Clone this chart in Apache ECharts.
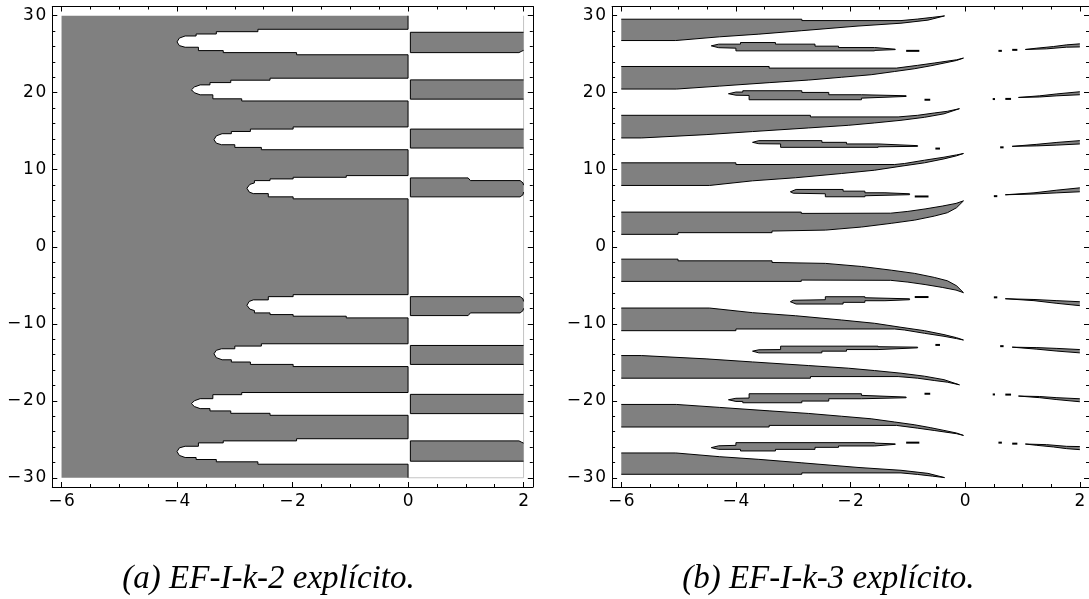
<!DOCTYPE html>
<html><head><meta charset="utf-8">
<script src="https://cdn.jsdelivr.net/npm/echarts@6/dist/echarts.min.js"></script>
<style>html,body{margin:0;padding:0;background:#fff}#c{width:1089px;height:599px}</style>
</head><body><div id="c"></div>
<script>
// ---------------- tick values ----------------
const xMajor = [-6, -4, -2, 0, 2];
const xMinor = [-6,-5.5,-5,-4.5,-4,-3.5,-3,-2.5,-2,-1.5,-1,-0.5,0,0.5,1,1.5,2];
const yMajor = [-30, -20, -10, 0, 10, 20, 30];
const yMinor = [-30,-28,-26,-24,-22,-20,-18,-16,-14,-12,-10,-8,-6,-4,-2,0,2,4,6,8,10,12,14,16,18,20,22,24,26,28,30];
const captions = ['(a) EF-I-k-2 explícito.', '(b) EF-I-k-3 explícito.'];

// ---------------- panel (a): white fingers cut into the gray block ----------------
const aFinger1 = [[0,28.24],[-2.60,28.24],[-2.60,27.93],[-3.32,27.93],[-3.32,27.63],[-3.67,27.63],[-3.67,27.37],[-3.86,27.37],[-3.96,27.1],[-4.0,26.6],[-3.96,26.12],[-3.86,25.91],[-3.63,25.91],[-3.63,25.47],[-3.20,25.47],[-3.20,25.21],[-1.93,25.21],[-1.93,24.93],[0,24.93]];
const aFinger2 = [[0,21.89],[-2.39,21.89],[-2.39,21.63],[-3.07,21.63],[-3.07,21.32],[-3.43,21.32],[-3.43,21.02],[-3.60,21.02],[-3.70,20.75],[-3.75,20.38],[-3.70,20.0],[-3.60,19.73],[-3.38,19.73],[-3.38,19.21],[-2.88,19.21],[-2.88,18.93],[0,18.93]];
const aFinger3 = [[0,15.56],[-1.99,15.56],[-1.99,15.28],[-2.73,15.28],[-2.73,14.97],[-3.06,14.97],[-3.06,14.68],[-3.22,14.68],[-3.32,14.4],[-3.36,13.9],[-3.32,13.45],[-3.23,13.25],[-3.00,13.25],[-3.00,12.90],[-2.54,12.90],[-2.54,12.60],[0,12.60]];
const aFinger4 = [[0,9.24],[-1.07,9.24],[-1.07,9.02],[-1.99,9.02],[-1.99,8.81],[-2.39,8.81],[-2.39,8.59],[-2.66,8.59],[-2.66,8.29],[-2.74,8.1],[-2.79,7.6],[-2.75,7.1],[-2.68,6.90],[-2.42,6.90],[-2.42,6.48],[-1.99,6.48],[-1.99,6.22],[0,6.22]];
const aFinger5 = [[0,-6.22],[-1.99,-6.22],[-1.99,-6.48],[-2.42,-6.48],[-2.42,-6.90],[-2.68,-6.90],[-2.75,-7.1],[-2.79,-7.6],[-2.74,-8.1],[-2.66,-8.29],[-2.66,-8.59],[-2.39,-8.59],[-2.39,-8.81],[-1.99,-8.81],[-1.99,-9.02],[-1.07,-9.02],[-1.07,-9.24],[0,-9.24]];
const aFinger6 = [[0,-12.60],[-2.54,-12.60],[-2.54,-12.90],[-3.00,-12.90],[-3.00,-13.25],[-3.23,-13.25],[-3.32,-13.45],[-3.36,-13.9],[-3.32,-14.4],[-3.22,-14.68],[-3.06,-14.68],[-3.06,-14.97],[-2.73,-14.97],[-2.73,-15.28],[-1.99,-15.28],[-1.99,-15.56],[0,-15.56]];
const aFinger7 = [[0,-18.93],[-2.88,-18.93],[-2.88,-19.21],[-3.38,-19.21],[-3.38,-19.73],[-3.60,-19.73],[-3.70,-20.0],[-3.75,-20.38],[-3.70,-20.75],[-3.60,-21.02],[-3.43,-21.02],[-3.43,-21.32],[-3.07,-21.32],[-3.07,-21.63],[-2.39,-21.63],[-2.39,-21.89],[0,-21.89]];
const aFinger8 = [[0,-24.93],[-1.93,-24.93],[-1.93,-25.21],[-3.20,-25.21],[-3.20,-25.47],[-3.63,-25.47],[-3.63,-25.91],[-3.86,-25.91],[-3.96,-26.12],[-4.0,-26.6],[-3.96,-27.1],[-3.86,-27.37],[-3.67,-27.37],[-3.67,-27.63],[-3.32,-27.63],[-3.32,-27.93],[-2.60,-27.93],[-2.60,-28.24],[0,-28.24]];
const aBlockCorners = [[0,30],[0,-30],[-6,-30],[-6,30]];

// panel (a): gray bars right of the imaginary axis
const aBar1 = [[2,27.85],[0.04,27.85],[0.04,25.21],[1.92,25.21],[1.97,25.4],[2,25.5]];
const aBar2 = [[2,21.67],[0.04,21.67],[0.04,19.17],[2,19.17]];
const aBar3 = [[2,15.28],[0.04,15.28],[0.04,12.82],[2,12.82]];
const aBar4 = [[2,8.0],[1.99,8.3],[1.94,8.59],[1.08,8.59],[1.04,8.94],[0.04,8.94],[0.04,6.48],[1.94,6.48],[1.99,6.75],[2,7.1]];
const aBar5 = [[2,-7.1],[1.99,-6.75],[1.94,-6.48],[0.04,-6.48],[0.04,-8.94],[1.04,-8.94],[1.08,-8.59],[1.94,-8.59],[1.99,-8.3],[2,-8.0]];
const aBar6 = [[2,-12.82],[0.04,-12.82],[0.04,-15.28],[2,-15.28]];
const aBar7 = [[2,-19.17],[0.04,-19.17],[0.04,-21.67],[2,-21.67]];
const aBar8 = [[2,-25.5],[1.97,-25.4],[1.92,-25.21],[0.04,-25.21],[0.04,-27.85],[2,-27.85]];
const aGhost1 = [[2,30],[2,-30]];
const aGhost2 = [[0,-30],[2,-30]];

// ---------------- panel (b): tapering bands (upper edge / lower edge, left to right, ending at tip) ----------------
const bA_up  = [[-6,29.55],[-2.85,29.55],[-2.85,29.37],[-1.12,29.37],[-0.83,29.57],[-0.57,29.79],[-0.36,29.98]];
const bA_lo  = [[-6,26.78],[-5.05,26.78],[-4.29,27.26],[-3.6,27.61],[-2.85,28.06],[-1.87,28.66],[-1.12,29.03],[-0.65,29.43],[-0.36,29.98]];
const bB_up  = [[-6,23.41],[-3.42,23.41],[-3.42,23.2],[-1.2,23.2],[-0.83,23.56],[-0.54,23.86],[-0.15,24.28],[-0.03,24.5]];
const bB_lo  = [[-6,20.48],[-5.04,20.48],[-4.29,20.86],[-3.42,21.31],[-2.73,21.65],[-2.16,22.01],[-1.64,22.34],[-1.23,22.76],[-0.89,23.11],[-0.60,23.5],[-0.37,23.85],[-0.15,24.19],[-0.03,24.5]];
const bC_up  = [[-6,17.07],[-2.70,17.07],[-2.70,16.86],[-1.17,16.86],[-0.83,17.07],[-0.54,17.37],[-0.31,17.59],[-0.1,17.93]];
const bC_lo  = [[-6,14.13],[-5.65,14.13],[-4.52,14.56],[-3.71,14.96],[-2.73,15.43],[-2.04,15.77],[-1.58,16.08],[-1.12,16.42],[-0.71,16.81],[-0.37,17.26],[-0.1,17.93]];
const bD_up  = [[-6,10.9],[-4.0,10.9],[-4.0,10.68],[-1.23,10.68],[-1.06,10.81],[-0.71,11.24],[-0.37,11.63],[-0.15,11.93],[-0.03,12.11]];
const bD_lo  = [[-6,7.96],[-4.46,7.96],[-3.71,8.56],[-2.96,8.96],[-2.16,9.51],[-1.58,9.94],[-1.12,10.46],[-0.71,10.9],[-0.37,11.41],[-0.15,11.81],[-0.03,12.11]];
const bE_up  = [[-6,4.5],[-2.86,4.5],[-2.86,4.33],[-1.3,4.36],[-1.0,4.59],[-0.7,4.91],[-0.4,5.28],[-0.16,5.63],[-0.03,5.96]];
const bE_lo  = [[-6,1.61],[-5.01,1.61],[-5.01,1.83],[-3.37,1.83],[-3.37,2.04],[-2.44,2.16],[-1.81,2.56],[-1.29,3.04],[-0.88,3.46],[-0.54,3.98],[-0.31,4.42],[-0.15,5.07],[-0.03,5.96]];
const bF_up  = [[-6,-1.61],[-5.01,-1.61],[-5.01,-1.83],[-3.37,-1.83],[-3.37,-2.04],[-2.44,-2.16],[-1.81,-2.56],[-1.29,-3.04],[-0.88,-3.46],[-0.54,-3.98],[-0.31,-4.42],[-0.15,-5.07],[-0.03,-5.96]];
const bF_lo  = [[-6,-4.5],[-2.86,-4.5],[-2.86,-4.33],[-1.3,-4.36],[-1.0,-4.59],[-0.7,-4.91],[-0.4,-5.28],[-0.16,-5.63],[-0.03,-5.96]];
const bG_up  = [[-6,-7.96],[-4.46,-7.96],[-3.71,-8.56],[-2.96,-8.96],[-2.16,-9.51],[-1.58,-9.94],[-1.12,-10.46],[-0.71,-10.9],[-0.37,-11.41],[-0.15,-11.81],[-0.03,-12.11]];
const bG_lo  = [[-6,-10.9],[-4.0,-10.9],[-4.0,-10.68],[-1.23,-10.68],[-1.06,-10.81],[-0.71,-11.24],[-0.37,-11.63],[-0.15,-11.93],[-0.03,-12.11]];
const bH_up  = [[-6,-14.13],[-5.65,-14.13],[-4.52,-14.56],[-3.71,-14.96],[-2.73,-15.43],[-2.04,-15.77],[-1.58,-16.08],[-1.12,-16.42],[-0.71,-16.81],[-0.37,-17.26],[-0.1,-17.93]];
const bH_lo  = [[-6,-17.07],[-2.70,-17.07],[-2.70,-16.86],[-1.17,-16.86],[-0.83,-17.07],[-0.54,-17.37],[-0.31,-17.59],[-0.1,-17.93]];
const bI_up  = [[-6,-20.48],[-5.04,-20.48],[-4.29,-20.86],[-3.42,-21.31],[-2.73,-21.65],[-2.16,-22.01],[-1.64,-22.34],[-1.23,-22.76],[-0.89,-23.11],[-0.60,-23.5],[-0.37,-23.85],[-0.15,-24.19],[-0.03,-24.5]];
const bI_lo  = [[-6,-23.41],[-3.42,-23.41],[-3.42,-23.2],[-1.2,-23.2],[-0.83,-23.56],[-0.54,-23.86],[-0.15,-24.28],[-0.03,-24.5]];
const bJ_up  = [[-6,-26.78],[-5.05,-26.78],[-4.29,-27.26],[-3.6,-27.61],[-2.85,-28.06],[-1.87,-28.66],[-1.12,-29.03],[-0.65,-29.43],[-0.36,-29.98]];
const bJ_lo  = [[-6,-29.55],[-2.85,-29.55],[-2.85,-29.37],[-1.12,-29.37],[-0.83,-29.57],[-0.57,-29.79],[-0.36,-29.98]];

// panel (b): isolated slivers (closed outlines)
const bS1 = [[-4.43,26.09],[-4.3,26.31],[-3.92,26.31],[-3.92,26.52],[-3.31,26.52],[-3.31,26.31],[-2.62,26.31],[-2.62,26.05],[-2.21,26.05],[-2.21,25.87],[-1.58,25.87],[-1.22,25.66],[-1.22,25.6],[-1.58,25.5],[-1.58,25.44],[-4.0,25.44],[-4.0,25.79],[-4.3,25.85]];
const bS2 = [[-4.13,19.87],[-4.0,20.09],[-3.88,20.09],[-3.88,20.26],[-2.85,20.26],[-2.85,20.04],[-2.38,20.04],[-2.38,19.74],[-1.81,19.74],[-1.03,19.61],[-1.03,19.52],[-1.81,19.30],[-1.81,19.09],[-3.77,19.09],[-3.77,19.65],[-4.0,19.68]];
const bS3 = [[-3.71,13.56],[-3.6,13.78],[-2.5,13.78],[-2.5,13.56],[-2.07,13.56],[-2.07,13.35],[-1.52,13.35],[-0.83,13.13],[-0.83,13.04],[-1.52,12.98],[-1.52,12.91],[-3.22,12.91],[-3.22,13.35],[-3.6,13.38]];
const bS4 = [[-3.05,7.14],[-2.95,7.44],[-2.13,7.44],[-2.13,7.22],[-1.75,7.22],[-1.75,7.01],[-1.4,7.01],[-0.97,6.88],[-0.97,6.76],[-1.75,6.62],[-1.75,6.49],[-2.44,6.49],[-2.44,6.88],[-3.0,6.95]];
const bS5 = [[-3.05,-7.14],[-2.95,-7.44],[-2.13,-7.44],[-2.13,-7.22],[-1.75,-7.22],[-1.75,-7.01],[-1.4,-7.01],[-0.97,-6.88],[-0.97,-6.76],[-1.75,-6.62],[-1.75,-6.49],[-2.44,-6.49],[-2.44,-6.88],[-3.0,-6.95]];
const bS6 = [[-3.71,-13.56],[-3.6,-13.78],[-2.5,-13.78],[-2.5,-13.56],[-2.07,-13.56],[-2.07,-13.35],[-1.52,-13.35],[-0.83,-13.13],[-0.83,-13.04],[-1.52,-12.98],[-1.52,-12.91],[-3.22,-12.91],[-3.22,-13.35],[-3.6,-13.38]];
const bS7 = [[-4.13,-19.87],[-4.0,-20.09],[-3.88,-20.09],[-3.88,-20.26],[-2.85,-20.26],[-2.85,-20.04],[-2.38,-20.04],[-2.38,-19.74],[-1.81,-19.74],[-1.03,-19.61],[-1.03,-19.52],[-1.81,-19.30],[-1.81,-19.09],[-3.77,-19.09],[-3.77,-19.65],[-4.0,-19.68]];
const bS8 = [[-4.43,-26.09],[-4.3,-26.31],[-3.92,-26.31],[-3.92,-26.52],[-3.31,-26.52],[-3.31,-26.31],[-2.62,-26.31],[-2.62,-26.05],[-2.21,-26.05],[-2.21,-25.87],[-1.58,-25.87],[-1.22,-25.66],[-1.22,-25.6],[-1.58,-25.5],[-1.58,-25.44],[-4.0,-25.44],[-4.0,-25.79],[-4.3,-25.85]];

// panel (b): thin wedges reaching x = 2 (open at the plot edge)
const bR1 = [[2,26.35],[1.77,26.22],[1.54,26.0],[1.25,25.79],[1.05,25.62],[1.42,25.70],[1.77,25.92],[2,25.95]];
const bR2 = [[2,20.13],[1.6,19.85],[1.3,19.6],[0.93,19.39],[1.3,19.45],[1.6,19.6],[2,19.74]];
const bR3 = [[2,13.78],[1.6,13.55],[1.25,13.3],[0.82,13.04],[1.25,13.1],[1.6,13.2],[2,13.35]];
const bR4 = [[2,7.65],[1.6,7.35],[1.2,7.0],[0.7,6.75],[1.2,6.85],[1.6,7.0],[2,7.14]];
const bR5 = [[2,-7.65],[1.6,-7.35],[1.2,-7.0],[0.7,-6.75],[1.2,-6.85],[1.6,-7.0],[2,-7.14]];
const bR6 = [[2,-13.78],[1.6,-13.55],[1.25,-13.3],[0.82,-13.04],[1.25,-13.1],[1.6,-13.2],[2,-13.35]];
const bR7 = [[2,-20.13],[1.6,-19.85],[1.3,-19.6],[0.93,-19.39],[1.3,-19.45],[1.6,-19.6],[2,-19.74]];
const bR8 = [[2,-26.35],[1.77,-26.22],[1.54,-26.0],[1.25,-25.79],[1.05,-25.62],[1.42,-25.70],[1.77,-25.92],[2,-25.95]];

// panel (b): short dashes / dots
const bDashes = [
  [[-1.03,25.44],[-0.80,25.44]], [[0.58,25.44],[0.64,25.44]], [[0.82,25.57],[0.91,25.57]],
  [[-0.71,19.09],[-0.61,19.09]], [[0.48,19.18],[0.52,19.18]], [[0.70,19.2],[0.80,19.2]],
  [[-0.52,12.75],[-0.44,12.75]], [[0.61,12.91],[0.67,12.91]],
  [[-0.88,6.53],[-0.64,6.53]], [[0.50,6.57],[0.56,6.57]],
  [[-0.88,-6.53],[-0.64,-6.53]], [[0.50,-6.57],[0.56,-6.57]],
  [[-0.52,-12.75],[-0.44,-12.75]], [[0.61,-12.91],[0.67,-12.91]],
  [[-0.71,-19.09],[-0.61,-19.09]], [[0.48,-19.18],[0.52,-19.18]], [[0.70,-19.2],[0.80,-19.2]],
  [[-1.03,-25.44],[-0.80,-25.44]], [[0.58,-25.44],[0.64,-25.44]], [[0.82,-25.57],[0.91,-25.57]]
];

// ---------------- assemble shapes ----------------
const band = (up, lo) => ({edge: up.concat(lo.slice(0, -1).reverse())});
const aBlock = {
  edge: [aBlockCorners[0]].concat(aFinger1, aFinger2, aFinger3, aFinger4, aFinger5, aFinger6, aFinger7, aFinger8, [aBlockCorners[1]]),
  cap: [aBlockCorners[2], aBlockCorners[3]]
};
const aBars = [aBar1, aBar2, aBar3, aBar4, aBar5, aBar6, aBar7, aBar8].map(e => ({edge: e}));
const aGhosts = [aGhost1, aGhost2].map(e => ({edge: e}));
const bBands = [band(bA_up,bA_lo), band(bB_up,bB_lo), band(bC_up,bC_lo), band(bD_up,bD_lo), band(bE_up,bE_lo),
                band(bF_up,bF_lo), band(bG_up,bG_lo), band(bH_up,bH_lo), band(bI_up,bI_lo), band(bJ_up,bJ_lo)];
const bSlivers = [bS1,bS2,bS3,bS4,bS5,bS6,bS7,bS8].map(e => ({edge: e, closed: true}));
const bWedges = [bR1,bR2,bR3,bR4,bR5,bR6,bR7,bR8].map(e => ({edge: e}));
const bDashShapes = bDashes.map(e => ({edge: e}));

// ---------------- styling / layout ----------------
const GRAY = '#808080', INK = '#000';
const X_MIN = -6.16, X_MAX = 2.16, Y_MIN = -31.2, Y_MAX = 31.2;
const grids = [
  {left: 52.3, top: 6.5, width: 480.5, height: 480.5},
  {left: 612.1, top: 6.5, width: 480.5, height: 480.5}
];
const labelFont = {color: INK, fontFamily: 'DejaVu Sans', fontSize: 17};
// tick label text: true minus sign, slightly spaced digits (as in the reference typeface)
const fmtTick = v => String(v).replace('-', '\u2212').split('').join('\u200A');

function mkAxis(dim, gi, position, values, len, withLine, withLabel) {
  return {
    gridIndex: gi, type: 'value', position,
    min: dim === 'x' ? X_MIN : Y_MIN, max: dim === 'x' ? X_MAX : Y_MAX,
    splitLine: {show: false},
    axisLine: {show: withLine, onZero: false, lineStyle: {color: INK, width: 1}},
    axisTick: {show: true, inside: true, length: len, customValues: values, lineStyle: {color: INK, width: 1}},
    axisLabel: withLabel
      ? Object.assign({show: true, customValues: values, margin: 6, formatter: fmtTick}, labelFont)
      : {show: false}
  };
}
const xAxis = [], yAxis = [];
[0, 1].forEach(gi => {
  xAxis.push(mkAxis('x', gi, 'bottom', xMajor, 5, true, true));
  xAxis.push(mkAxis('x', gi, 'bottom', xMinor, 3, false, false));
  xAxis.push(mkAxis('x', gi, 'top', xMajor, 5, true, false));
  xAxis.push(mkAxis('x', gi, 'top', xMinor, 3, false, false));
  yAxis.push(mkAxis('y', gi, 'left', yMajor, 5, true, true));
  yAxis.push(mkAxis('y', gi, 'left', yMinor, 3, false, false));
  yAxis.push(mkAxis('y', gi, 'right', yMajor, 5, true, false));
  yAxis.push(mkAxis('y', gi, 'right', yMinor, 3, false, false));
});

function shapeSeries(gi, shapes, fill, stroke, lw) {
  return {
    type: 'custom', coordinateSystem: 'cartesian2d',
    xAxisIndex: gi * 4, yAxisIndex: gi * 4,
    silent: true, animation: false,
    data: shapes.map(s => s.edge[0]),
    renderItem: function (params, api) {
      const s = shapes[params.dataIndex];
      const e = s.edge.map(p => api.coord(p));
      const children = [];
      if (fill) {
        const c = (s.cap || []).map(p => api.coord(p));
        children.push({type: 'polygon', shape: {points: e.concat(c)}, style: {fill: fill, stroke: null}});
      }
      if (stroke) {
        children.push({type: 'polyline', shape: {points: s.closed ? e.concat([e[0]]) : e},
          style: {stroke: stroke, lineWidth: lw, fill: null}});
      }
      return {type: 'group', children: children};
    }
  };
}

const series = [
  shapeSeries(0, aGhosts, null, '#c4c4c4', 1),
  shapeSeries(0, [aBlock], GRAY, INK, 1),
  shapeSeries(0, aBars, GRAY, INK, 1),
  shapeSeries(1, bBands, GRAY, INK, 1),
  shapeSeries(1, bSlivers, GRAY, INK, 1),
  shapeSeries(1, bWedges, GRAY, INK, 1),
  shapeSeries(1, bDashShapes, null, INK, 2)
];

const chart = echarts.init(document.getElementById('c'), null, {renderer: 'canvas'});
chart.setOption({
  animation: false,
  backgroundColor: '#fff',
  grid: grids,
  xAxis: xAxis,
  yAxis: yAxis,
  series: series,
  graphic: [
    {type: 'text', x: 268.5, y: 579, silent: true,
     style: {text: captions[0], fill: INK, fontSize: 33, fontFamily: 'Liberation Serif', fontStyle: 'italic', align: 'center', verticalAlign: 'middle'}},
    {type: 'text', x: 828.3, y: 579, silent: true,
     style: {text: captions[1], fill: INK, fontSize: 33, fontFamily: 'Liberation Serif', fontStyle: 'italic', align: 'center', verticalAlign: 'middle'}}
  ]
});
</script>
</body></html>
